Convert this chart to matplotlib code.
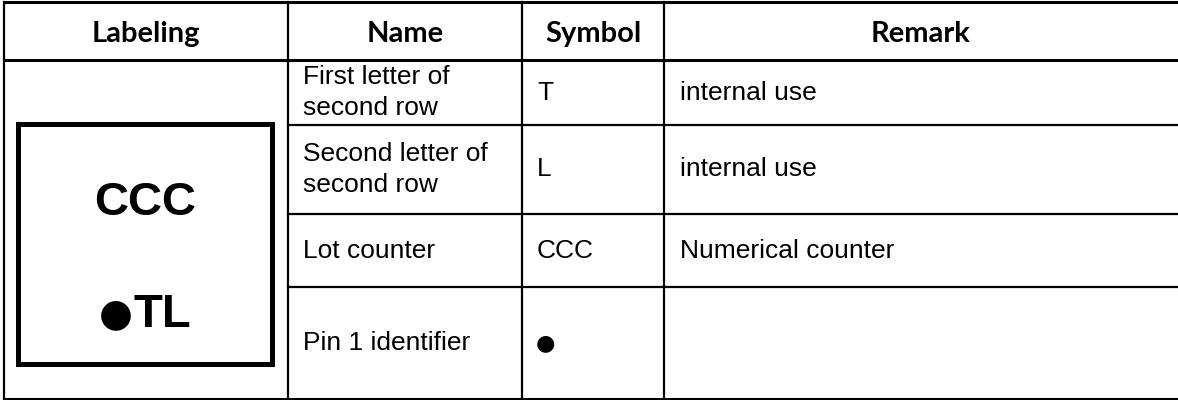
import matplotlib
matplotlib.use("Agg")
import matplotlib.pyplot as plt
from matplotlib.patches import Rectangle

# table content
headers = ["Labeling", "Name", "Symbol", "Remark"]
names = [["First letter of", "second row"], ["Second letter of", "second row"],
         ["Lot counter"], ["Pin 1 identifier"]]
symbols = ["T", "L", "CCC", "\u25CF"]
remarks = ["internal use", "internal use", "Numerical counter", ""]
marking = ["CCC", "TL"]

# layout in pixels
col_x = [4, 288, 522, 664, 1178]
row_y = [2, 60, 125, 214, 287, 399]

body_font = ["Liberation Sans", "DejaVu Sans"]
head_font = ["Lato", "DejaVu Sans"]
BULLET = "\u25CF"

fig = plt.figure(figsize=(11.78, 4.0), dpi=100)
ax = fig.add_axes([0, 0, 1, 1])
ax.set_xlim(0, 1178)
ax.set_ylim(400, 0)
ax.axis("off")

lw = 1.6
# horizontal rules
ax.plot([col_x[0], col_x[-1]], [row_y[0], row_y[0]], color="black", lw=2.2)
ax.plot([col_x[0], col_x[-1]], [row_y[1], row_y[1]], color="black", lw=2.2)
for y in row_y[2:-1]:
    ax.plot([col_x[1], col_x[-1]], [y, y], color="black", lw=lw)
ax.plot([col_x[0], col_x[-1]], [row_y[-1], row_y[-1]], color="black", lw=2.2)
# vertical rules
for x in col_x[:-1]:
    ax.plot([x, x], [row_y[0], row_y[-1]], color="black", lw=lw)

# header
for i, h in enumerate(headers):
    cx = (col_x[i] + col_x[i + 1]) / 2
    ax.text(cx, (row_y[0] + row_y[1]) / 2 + 3, h, ha="center", va="center",
            fontsize=21, fontweight="bold", family=head_font)

# body rows
for r in range(len(names)):
    cy = (row_y[r + 1] + row_y[r + 2]) / 2
    n = len(names[r])
    for k, line in enumerate(names[r]):
        ax.text(col_x[1] + 15, cy + (k - (n - 1) / 2) * 30.5, line,
                ha="left", va="center", fontsize=19, family=body_font)
    if symbols[r] == BULLET:
        ax.text(col_x[2] + 14, cy, symbols[r], ha="left", va="center",
                fontsize=16, family=["DejaVu Sans"])
    else:
        ax.text(col_x[2] + 15, cy, symbols[r], ha="left", va="center",
                fontsize=19, family=body_font)
    ax.text(col_x[3] + 16, cy, remarks[r], ha="left", va="center",
            fontsize=19, family=body_font)

# marking drawing in the labeling column
ax.add_patch(Rectangle((18, 124), 254, 240, fill=False, edgecolor="black", lw=3.6))
ax.text(145, 203, marking[0], ha="center", va="center", fontsize=34,
        fontweight="bold", family=body_font)
ax.text(133, 314, BULLET, ha="right", va="center", fontsize=28,
        family=["DejaVu Sans"])
ax.text(134, 315, marking[1], ha="left", va="center", fontsize=34,
        fontweight="bold", family=body_font)

fig.savefig("out.png", dpi=100)
